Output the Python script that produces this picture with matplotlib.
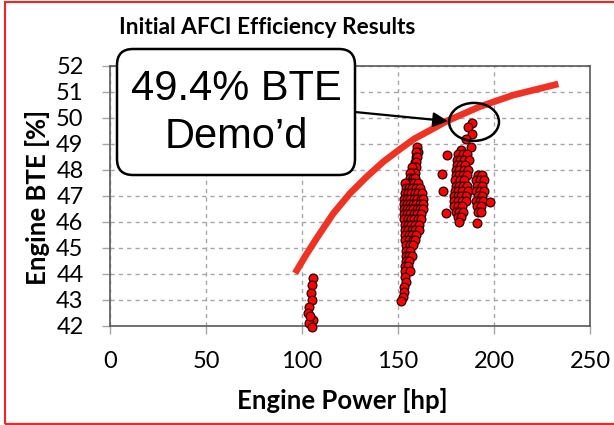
import matplotlib.pyplot as plt
from matplotlib.patches import FancyBboxPatch, Ellipse, Rectangle

# test data (engine power [hp], BTE [%])
low_hp = [105.9, 105.0, 104.7, 105.0, 103.8, 103.3, 105.5, 103.8, 105.0, 104.2]
low_bte = [43.83, 43.58, 43.26, 43.0, 42.74, 42.51, 42.23, 42.13, 41.98, 42.4]

mid_hp = [159.8, 160.2, 159.6, 159.3, 160.0, 158.8, 159.6, 158.2, 159.3, 157.5,
          157.3, 158.6, 156.5, 156.2, 157.8, 159.0,
          155.0, 156.8, 158.3, 160.2, 153.8,
          154.0, 155.8, 157.5, 159.5, 161.5,
          153.5, 155.2, 157.0, 158.8, 160.5, 162.3,
          153.2, 154.8, 156.5, 158.2, 160.0, 161.8, 163.0,
          153.0, 154.5, 156.0, 157.8, 159.5, 161.2, 162.8,
          153.0, 154.6, 156.3, 158.0, 159.8, 161.5, 163.0,
          153.1, 154.8, 156.5, 158.3, 160.0, 162.0,
          153.3, 155.0, 156.8, 158.5, 160.3, 162.2,
          153.5, 155.2, 157.0, 158.8, 160.8,
          153.6, 155.4, 157.2, 159.0, 161.0,
          153.8, 155.6, 157.5, 159.2,
          153.9, 155.8, 157.6, 159.0,
          154.0, 156.0, 157.8,
          154.2, 156.0,
          154.3, 155.8, 157.5,
          154.0, 155.5,
          153.8, 155.3,
          153.8, 156.5,
          153.5, 154.0, 153.2, 153.0, 152.4, 151.7]
mid_bte = [48.87, 48.7, 48.7, 48.5, 48.5, 48.3, 48.3, 48.1, 48.1, 48.1,
           47.9, 47.9, 47.9, 47.7, 47.7, 47.7,
           47.5, 47.5, 47.5, 47.5, 47.5,
           47.3, 47.3, 47.3, 47.3, 47.3,
           47.1, 47.1, 47.1, 47.1, 47.1, 47.1,
           46.9, 46.9, 46.9, 46.9, 46.9, 46.9, 46.9,
           46.7, 46.7, 46.7, 46.7, 46.7, 46.7, 46.7,
           46.5, 46.5, 46.5, 46.5, 46.5, 46.5, 46.5,
           46.3, 46.3, 46.3, 46.3, 46.3, 46.3,
           46.1, 46.1, 46.1, 46.1, 46.1, 46.1,
           45.9, 45.9, 45.9, 45.9, 45.9,
           45.7, 45.7, 45.7, 45.7, 45.7,
           45.5, 45.5, 45.5, 45.5,
           45.3, 45.3, 45.3, 45.3,
           45.1, 45.1, 45.1,
           44.9, 44.9,
           44.7, 44.7, 44.7,
           44.5, 44.5,
           44.3, 44.3,
           44.1, 44.1,
           43.9, 43.7, 43.5, 43.3, 43.1, 42.95]

high_hp = [188.7, 186.6, 188.7, 185.5, 187.9, 182.6,
           181.5, 183.8, 186.0,
           180.8, 182.5, 184.5, 186.8,
           180.5, 182.8, 185.0,
           180.2, 182.0, 184.2, 186.5,
           180.0, 181.8, 183.8, 186.0, 191.8, 193.5,
           179.8, 182.2, 184.5, 190.5, 192.8, 194.8,
           180.0, 182.0, 184.0, 186.0, 191.0, 193.5,
           179.5, 181.5, 183.5, 186.2, 190.8, 192.6, 195.0,
           179.2, 181.3, 183.0, 185.5, 191.5, 194.0,
           179.0, 181.0, 183.5, 185.2, 190.5, 192.5, 194.5,
           179.3, 181.5, 183.2, 191.0, 193.0,
           180.0, 182.0, 184.0, 191.5, 193.2,
           181.0, 183.0,
           175.3, 173.1, 173.3, 174.8, 198.1, 190.9, 181.7]
high_bte = [49.8, 49.67, 49.37, 49.19, 48.9, 48.77,
            48.6, 48.6, 48.6,
            48.4, 48.4, 48.4, 48.4,
            48.2, 48.2, 48.2,
            48.0, 48.0, 48.0, 48.0,
            47.8, 47.8, 47.8, 47.8, 47.8, 47.8,
            47.6, 47.6, 47.6, 47.6, 47.6, 47.6,
            47.4, 47.4, 47.4, 47.4, 47.4, 47.4,
            47.2, 47.2, 47.2, 47.2, 47.2, 47.2, 47.2,
            47.0, 47.0, 47.0, 47.0, 47.0, 47.0,
            46.8, 46.8, 46.8, 46.8, 46.8, 46.8, 46.8,
            46.6, 46.6, 46.6, 46.6, 46.6,
            46.4, 46.4, 46.4, 46.4, 46.4,
            46.2, 46.2,
            48.58, 47.86, 47.19, 46.33, 46.78, 45.95, 45.99]

# fitted trend line
trend_hp = [96.4, 102, 107.6, 116.3, 125, 133.7, 142.4, 151, 158.5, 168, 175.4,
            192.7, 210, 233.5]
trend_bte = [44.03, 44.72, 45.37, 46.33, 47.10, 47.74, 48.32, 48.8, 49.2, 49.58,
             49.88, 50.44, 50.88, 51.31]

fig = plt.figure(figsize=(6.14, 4.25), dpi=100)
ax = fig.add_axes([110 / 614, 99 / 425, 480 / 614, 260 / 425])

ax.set_xlim(0, 250)
ax.set_ylim(42, 52)
ax.set_xticks(range(0, 251, 50))
ax.set_yticks(range(42, 53))
ax.grid(True, color='#a6a6a6', linestyle=(0, (3, 3)), linewidth=1)
ax.set_axisbelow(True)
for s in ax.spines.values():
    s.set_color('#595959')
    s.set_linewidth(1.2)
ax.tick_params(axis='both', colors='#a6a6a6', length=6, width=1,
               labelcolor='black', labelsize=17)
ax.tick_params(axis='y', pad=13)
ax.tick_params(axis='x', pad=12)
for lab in ax.get_xticklabels() + ax.get_yticklabels():
    lab.set_family('Lato')

# scatter clusters
for xs, ys in [(low_hp, low_bte), (mid_hp, mid_bte), (high_hp, high_bte)]:
    ax.scatter(xs, ys, s=40, color='#ff0000', edgecolors='#2a0000',
               linewidths=0.9, zorder=3, clip_on=False)

ax.plot(trend_hp, trend_bte, color='#ee3224', linewidth=4.8,
        solid_capstyle='butt', solid_joinstyle='round', zorder=4)

# circle around the best point
ax.add_patch(Ellipse((189.6, 49.85), 26, 1.46, fill=False, edgecolor='black',
                     linewidth=1.8, zorder=5, clip_on=False))

ax.annotate('', xy=(176, 49.88), xytext=(127.6, 50.23),
            arrowprops=dict(arrowstyle='-|>', color='black', lw=1.6,
                            mutation_scale=22, shrinkA=0, shrinkB=0),
            zorder=5)

# callout box
box = FancyBboxPatch((1.17, 2.50), 2.38, 1.26,
                     boxstyle='round,pad=0,rounding_size=0.16',
                     transform=fig.dpi_scale_trans, facecolor='white',
                     edgecolor='black', linewidth=1.8, zorder=10)
fig.patches.append(box)
fig.text(236 / 614, 1 - 113 / 425, '49.4% BTE\nDemo\u2019d', ha='center', va='center',
         fontsize=30, family='Liberation Sans', linespacing=1.25, zorder=11)

ax.set_xlabel('Engine Power [hp]', fontsize=18.5, fontweight='bold', family='Lato')
ax.set_ylabel('Engine BTE [%]', fontsize=18.5, fontweight='bold', family='Lato')
ax.xaxis.label.set_va('center')
ax.yaxis.label.set_va('center')
ax.xaxis.set_label_coords(0.485, -0.288)
ax.yaxis.set_label_coords(-0.152, 0.496)

fig.text(267 / 614, 1 - 28 / 425, 'Initial AFCI Efficiency Results', ha='center',
         va='center', fontsize=16.3, fontweight='bold', family='Lato')

# red outline around the slide region
fig.patches.append(Rectangle((5, 1), 700, 422, transform=None, fill=False,
                             edgecolor='#ff2020', linewidth=1.5))

fig.savefig('out.png', dpi=100)
